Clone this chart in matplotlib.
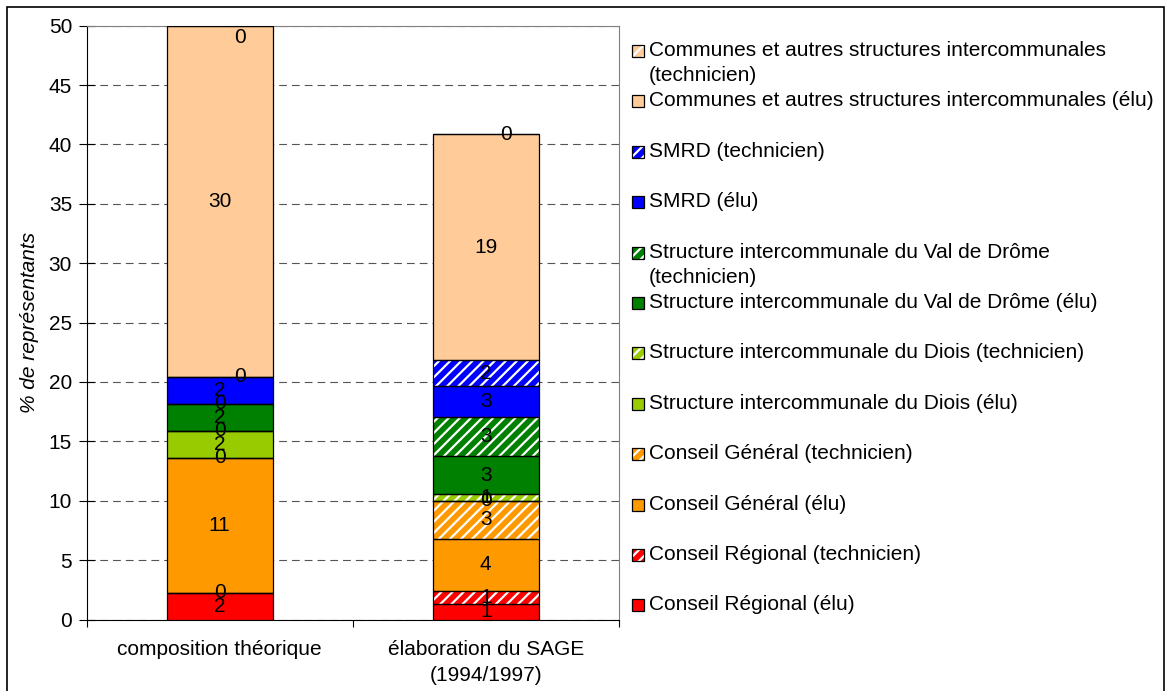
import matplotlib.pyplot as plt
from matplotlib.patches import Rectangle
import numpy as np

plt.rcParams['font.family'] = ['Liberation Sans', 'DejaVu Sans']
plt.rcParams['hatch.linewidth'] = 1.6

categories = ["composition théorique", "élaboration du SAGE\n(1994/1997)"]

# stacking order, bottom to top
series = [
    "Conseil Régional (élu)",
    "Conseil Régional (technicien)",
    "Conseil Général (élu)",
    "Conseil Général (technicien)",
    "Structure intercommunale du Diois (élu)",
    "Structure intercommunale du Diois (technicien)",
    "Structure intercommunale du Val de Drôme (élu)",
    "Structure intercommunale du Val de Drôme\n(technicien)",
    "SMRD (élu)",
    "SMRD (technicien)",
    "Communes et autres structures intercommunales (élu)",
    "Communes et autres structures intercommunales\n(technicien)",
]

# % de représentants per group
composition = [2.27, 0, 11.36, 0, 2.27, 0, 2.27, 0, 2.27, 0, 29.55, 0]
elaboration = [1.3, 1.1, 4.4, 3.2, 0, 0.55, 3.2, 3.3, 2.6, 2.2, 19.0, 0]

colors = ['#FF0000', '#FF0000', '#FF9900', '#FF9900', '#99CC00', '#99CC00',
          '#008000', '#008000', '#0000FF', '#0000FF', '#FFCC99', '#FFCC99']

FS = 15
W, H = 1165, 691
fig = plt.figure(figsize=(W / 100, H / 100), dpi=100)
ax = fig.add_axes([86.7 / W, 1 - 619.5 / H, (618.7 - 86.7) / W, (619.5 - 25.7) / H])

x = np.arange(len(categories))
values = np.array([composition, elaboration]).T
bottom = np.zeros(len(categories))
# zero-valued labels that sit off to the right of the bar centre
label_shift = {9: 0.075, 11: 0.075}

for i, name in enumerate(series):
    v = values[i]
    tech = i % 2 == 1
    ax.bar(x, v, 0.4, bottom=bottom, color=colors[i], hatch='///' if tech else None,
           edgecolor='white', linewidth=0, zorder=3)
    ax.bar(x, v, 0.4, bottom=bottom, facecolor='none', edgecolor='black',
           linewidth=0.9, zorder=4)
    for xi, vi, bi in zip(x, v, bottom):
        lx = xi + (label_shift.get(i, 0) if vi == 0 else 0)
        ly = min(bi + vi / 2, 49.0)
        ax.text(lx, ly, f"{vi:.0f}", ha='center', va='center', fontsize=FS, zorder=5)
    bottom += v

ax.set_ylim(0, 50)
ax.set_yticks(range(0, 51, 5))
ax.yaxis.grid(True, linestyle=(0, (7, 4.5)), color='#555555', linewidth=0.8)
ax.set_axisbelow(True)
ax.tick_params(axis='y', direction='inout', length=11, width=0.8, pad=5, labelsize=FS)

ax.set_xlim(-0.5, 1.5)
ax.set_xticks([-0.5, 0.5, 1.5])
ax.set_xticklabels([])
ax.tick_params(axis='x', which='major', direction='out', length=5, width=0.8)
ax.set_xticks(x, minor=True)
ax.set_xticklabels(categories, minor=True, linespacing=1.45)
ax.tick_params(axis='x', which='minor', length=0, pad=15, labelsize=FS)

for s in ('top', 'right'):
    ax.spines[s].set_color('#808080')
for s in ('left', 'bottom'):
    ax.spines[s].set_color('black')

ax.set_ylabel('% de représentants', fontsize=FS, style='italic')
ax.yaxis.set_label_coords(-0.09, 0.5)

# legend, top entry first
leg_x, txt_x = 632, 649
for k, i in enumerate(reversed(range(len(series)))):
    yc = 49 + k * 50.4
    tech = i % 2 == 1
    box = (leg_x / W, 1 - (yc + 8) / H)
    fig.add_artist(Rectangle(box, 12 / W, 12 / H, transform=fig.transFigure,
                             facecolor=colors[i], hatch='///' if tech else None,
                             edgecolor='white', linewidth=0))
    fig.add_artist(Rectangle(box, 12 / W, 12 / H, transform=fig.transFigure,
                             fill=False, edgecolor='black', linewidth=0.9))
    for j, line in enumerate(series[i].split('\n')):
        fig.text(txt_x / W, 1 - (yc + 7 + j * 25) / H, line, fontsize=FS, va='baseline')

fig.add_artist(Rectangle((7 / W, -0.01), (1164 - 7) / W, (H - 7) / H + 0.01,
                         transform=fig.transFigure, fill=False,
                         edgecolor='black', linewidth=1.2))

fig.savefig('out.png', dpi=100)
